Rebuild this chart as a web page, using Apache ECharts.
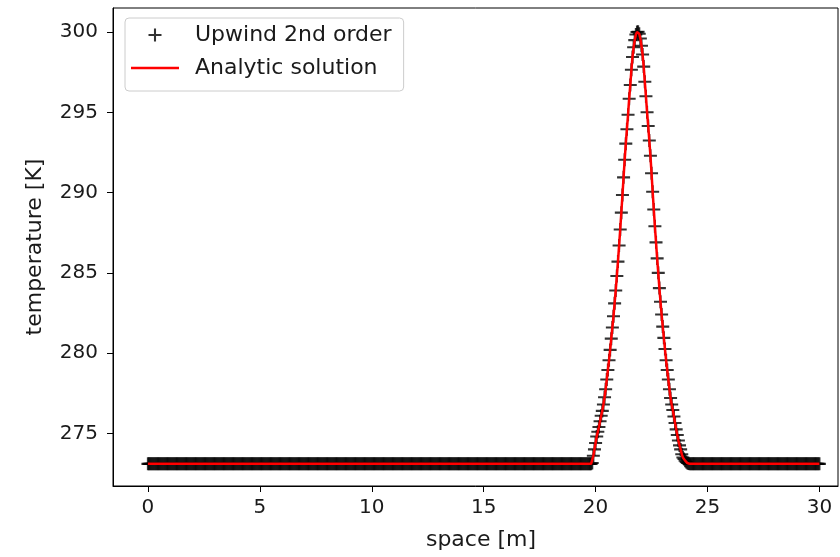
<!DOCTYPE html>
<html>
<head>
<meta charset="utf-8">
<script src="https://cdn.jsdelivr.net/npm/echarts@6/dist/echarts.min.js"></script>
<style>
  html, body { margin: 0; padding: 0; background: #fff; }
  #chart { width: 840px; height: 557px; }
</style>
</head>
<body>
<div id="chart"></div>
<script>
// grid spacing of the solution, and the flat background temperature
const dx = 0.05;
const xEnd = 30;
const baseTemp = 273.1;
const peakStart = 19.8;
const peakTemps = [
  273.1, 273.15, 273.6, 274.0, 274.4, 274.8, 275.1, 275.4, 275.75, 276.1,
  276.4, 276.8, 277.25, 277.75, 278.35, 278.95, 279.55, 280.2, 280.9, 281.6,
  282.3, 283.1, 283.9, 284.8, 285.7, 286.7, 287.7, 288.75, 289.85, 290.95,
  292.05, 293.05, 293.95, 294.85, 295.85, 296.7, 297.65, 298.45, 299.05, 299.5,
  299.85, 300.0, 300.02, 299.9, 299.6, 299.15, 298.6, 297.85, 296.9, 296.0,
  295.0, 294.15, 293.25, 292.3, 291.2, 290.05, 288.95, 287.9, 286.9, 285.9,
  285.0, 284.05, 283.2, 282.4, 281.65, 280.95, 280.25, 279.55, 278.95, 278.35,
  277.75, 277.2, 276.8, 276.45, 276.05, 275.65, 275.25, 274.9, 274.55, 274.25,
  274.0, 273.7, 273.5, 273.4, 273.3, 273.22, 273.15, 273.12, 273.1, 273.1,
  273.1
];
const xTicks = [0, 5, 10, 15, 20, 25, 30];
const yTicks = [275, 280, 285, 290, 295, 300];

const plusIcon = 'path://M0,4.2H4.2V0H5.8V4.2H10V5.8H5.8V10H4.2V5.8H0Z';
const lineIcon = 'path://M0,0H48V2.5H0Z';

// build the (x, T) pairs on the grid
const points = [];
const firstPeak = Math.round(peakStart / dx);
const nPts = Math.round(xEnd / dx);
for (let i = 0; i <= nPts; i++) {
  const k = i - firstPeak;
  const t = (k >= 0 && k < peakTemps.length) ? peakTemps[k] : baseTemp;
  points.push([+(i * dx).toFixed(2), t]);
}

const chart = echarts.init(document.getElementById('chart'));
const font = 'DejaVu Sans';
const option = {
  animation: false,
  textStyle: { fontFamily: font },
  grid: {
    left: 113, right: 2, top: 8, bottom: 71,
    show: true, borderColor: '#000', borderWidth: 1
  },
  legend: {
    orient: 'vertical',
    left: 125, top: 18,
    padding: [5, 12, 11, 6],
    itemWidth: 48, itemHeight: 13, itemGap: 9,
    backgroundColor: 'rgba(255,255,255,0.8)',
    borderColor: '#cccccc', borderWidth: 1, borderRadius: 4,
    textStyle: { fontFamily: font, fontSize: 22, color: '#1a1a1a', lineHeight: 24, padding: [0, 0, 0, 11] },
    data: [
      { name: 'Upwind 2nd order', icon: plusIcon },
      { name: 'Analytic solution', icon: lineIcon }
    ]
  },
  xAxis: {
    type: 'value',
    min: -1.56, max: 30.83,
    name: 'space [m]',
    nameLocation: 'middle',
    nameGap: 43,
    nameTextStyle: { fontFamily: font, fontSize: 22, color: '#1a1a1a', padding: [0, 0, 0, 11] },
    axisLine: { onZero: false, lineStyle: { color: '#000', width: 1 } },
    axisTick: { customValues: xTicks, length: 6, lineStyle: { color: '#000' } },
    axisLabel: { customValues: xTicks, margin: 12, fontFamily: font, fontSize: 20, color: '#1a1a1a' },
    splitLine: { show: false }
  },
  yAxis: {
    type: 'value',
    min: 271.72, max: 301.5,
    name: 'temperature [K]',
    nameLocation: 'middle',
    nameGap: 67,
    nameTextStyle: { fontFamily: font, fontSize: 22, color: '#1a1a1a' },
    axisLine: { onZero: false, lineStyle: { color: '#000', width: 1 } },
    axisTick: { customValues: yTicks, length: 6, lineStyle: { color: '#000' } },
    axisLabel: { customValues: yTicks, margin: 15, fontFamily: font, fontSize: 20, color: '#1a1a1a' },
    splitLine: { show: false }
  },
  series: [
    {
      name: 'Upwind 2nd order',
      type: 'scatter',
      data: points,
      symbol: plusIcon,
      symbolSize: 13,
      itemStyle: { color: '#000' },
      z: 2
    },
    {
      name: 'Analytic solution',
      type: 'line',
      data: points,
      symbol: 'none',
      lineStyle: { color: '#ff0000', width: 2.5 },
      itemStyle: { color: '#ff0000' },
      z: 3
    }
  ]
};
chart.setOption(option);
</script>
</body>
</html>
